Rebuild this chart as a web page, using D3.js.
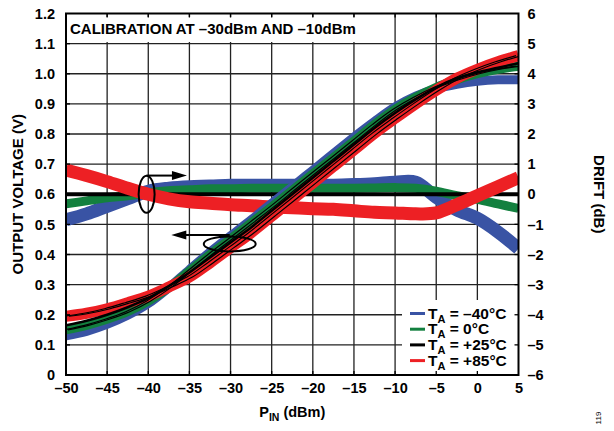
<!DOCTYPE html>
<html><head><meta charset="utf-8">
<script src="https://cdn.jsdelivr.net/npm/d3@7"></script>
<style>
body{margin:0;background:#fff}
svg{display:block}
text{font-family:"Liberation Sans",Arial,Helvetica,sans-serif;font-weight:bold;fill:#000}
</style>
</head><body>
<svg id="chart" width="614" height="431"></svg>
<script>
// ---- data ----
const pinDbm = [-50,-47.5,-45,-42.5,-40,-37.5,-35,-32.5,-30,-27.5,-25,-22.5,-20,-17.5,-15,-12.5,-10,-7.5,-5,-2.5,0,2.5,5];

// output voltage (V), left axis
const voutM40 = [0.13,0.145,0.168,0.198,0.237,0.29,0.35,0.408,0.462,0.515,0.57,0.625,0.68,0.735,0.79,0.842,0.89,0.926,0.95,0.965,0.975,0.98,0.98];
const vout0   = [0.15,0.165,0.185,0.21,0.245,0.29,0.345,0.4,0.452,0.505,0.558,0.613,0.668,0.722,0.777,0.832,0.882,0.922,0.955,0.98,1.0,1.015,1.025];
const vout25  = [0.165,0.18,0.20,0.225,0.255,0.295,0.34,0.39,0.44,0.49,0.545,0.60,0.655,0.71,0.765,0.82,0.87,0.915,0.955,0.985,1.005,1.02,1.035];
const vout85  = [0.195,0.205,0.22,0.24,0.262,0.292,0.325,0.372,0.422,0.472,0.527,0.582,0.637,0.692,0.747,0.802,0.852,0.90,0.945,0.985,1.015,1.04,1.06];

// drift (dB), right axis
const driftM40 = [-0.85,-0.65,-0.4,-0.15,0.1,0.2,0.25,0.27,0.3,0.3,0.3,0.3,0.3,0.3,0.32,0.35,0.4,0.4,-0.1,-0.52,-0.8,-1.25,-1.8];
const drift0   = [-0.32,-0.22,-0.12,-0.05,0.05,0.12,0.15,0.18,0.18,0.2,0.2,0.2,0.2,0.2,0.2,0.21,0.22,0.2,0.1,-0.05,-0.17,-0.32,-0.47];
const drift25  = [0,0,0,0,0,0,0,0,0,0,0,0,0,0,0,0,0,0,0,0,0,0,0];
const drift85  = [0.8,0.62,0.42,0.2,0.0,-0.15,-0.25,-0.3,-0.35,-0.38,-0.42,-0.45,-0.48,-0.5,-0.55,-0.6,-0.62,-0.65,-0.62,-0.35,-0.05,0.25,0.55];

const xTickVals = [-50,-45,-40,-35,-30,-25,-20,-15,-10,-5,0,5];
const voutTickVals = [0,0.1,0.2,0.3,0.4,0.5,0.6,0.7,0.8,0.9,1.0,1.1,1.2];
const driftTickVals = [-6,-5,-4,-3,-2,-1,0,1,2,3,4,5,6];

const legendLabels = ["\u201340\u00B0C","0\u00B0C","+25\u00B0C","+85\u00B0C"];
const seriesColors = ["#3953a4","#13803f","#000000","#ed2024"];

// ---- layout ----
const L = 66, R = 518.5, T = 13.5, B = 375;
const svg = d3.select("#chart");
const x = d3.scaleLinear().domain([-50,5]).range([L,R]);
const yV = d3.scaleLinear().domain([0,1.2]).range([B,T]);
const yD = d3.scaleLinear().domain([-6,6]).range([B,T]);
const dash = s => s.replace(/[-\u2212]/g,"\u2013");

svg.append("defs").append("clipPath").attr("id","plotclip")
  .append("rect").attr("x",L).attr("y",T).attr("width",R-L).attr("height",B-T);

// gridlines
const grid = svg.append("g").attr("stroke","#222").attr("stroke-width",1.3);
xTickVals.slice(1,-1).forEach(v=>{
  grid.append("line").attr("x1",x(v)).attr("x2",x(v)).attr("y1",T).attr("y2",B);
});
voutTickVals.slice(1,-1).forEach(v=>{
  grid.append("line").attr("x1",L).attr("x2",R).attr("y1",yV(v)).attr("y2",yV(v));
});

const plot = svg.append("g").attr("clip-path","url(#plotclip)");

// drift curves
const lineD = d3.line().x((d,i)=>x(pinDbm[i])).y(d=>yD(d)).curve(d3.curveCatmullRom);
[[driftM40,seriesColors[0],13],[drift0,seriesColors[1],9],[drift25,seriesColors[2],4],[drift85,seriesColors[3],13]]
  .forEach(([arr,c,w])=>{
    plot.append("path").attr("d",lineD(arr)).attr("fill","none").attr("stroke",c)
      .attr("stroke-width",w).attr("stroke-linecap","butt");
  });

// output voltage curves
const lineV = d3.line().x((d,i)=>x(pinDbm[i])).y(d=>yV(d)).curve(d3.curveCatmullRom);
[[voutM40,seriesColors[0],9],[vout0,seriesColors[1],9],[vout85,seriesColors[3],11]]
  .forEach(([arr,c,w])=>{
    plot.append("path").attr("d",lineV(arr)).attr("fill","none").attr("stroke",c).attr("stroke-width",w);
  });
plot.append("path").attr("d",lineV(vout0)).attr("fill","none").attr("stroke","#000").attr("stroke-width",1.2).attr("transform","translate(-2,0)");
plot.append("path").attr("d",lineV(vout0)).attr("fill","none").attr("stroke","#000").attr("stroke-width",1.2).attr("transform","translate(2,0)");
plot.append("path").attr("d",lineV(vout85)).attr("fill","none").attr("stroke","#000").attr("stroke-width",1.2).attr("transform","translate(-2.5,0)");
plot.append("path").attr("d",lineV(vout85)).attr("fill","none").attr("stroke","#000").attr("stroke-width",1.2).attr("transform","translate(3,0)");
plot.append("path").attr("d",lineV(vout25)).attr("fill","none").attr("stroke","#000").attr("stroke-width",2.5);

// annotations
const ann = svg.append("g").attr("fill","none").attr("stroke","#000").attr("stroke-width",2);
ann.append("ellipse").attr("cx",x(-40.2)).attr("cy",yD(0)).attr("rx",8).attr("ry",18.5);
ann.append("line").attr("x1",x(-40.2)).attr("x2",x(-37)).attr("y1",yD(0.62)).attr("y2",yD(0.62));
svg.append("path").attr("d",`M${x(-37)-1},${yD(0.62)-4.5}L${x(-37)+14},${yD(0.62)}L${x(-37)-1},${yD(0.62)+4.5}Z`).attr("fill","#000");
ann.append("ellipse").attr("cx",x(-30.1)).attr("cy",yV(0.435)).attr("rx",26).attr("ry",7.5);
ann.append("line").attr("x1",x(-30.1)).attr("x2",x(-35.5)).attr("y1",yV(0.465)).attr("y2",yV(0.465));
svg.append("path").attr("d",`M${x(-35.5)+1},${yV(0.465)-4.5}L${x(-35.5)-14},${yV(0.465)}L${x(-35.5)+1},${yV(0.465)+4.5}Z`).attr("fill","#000");

// title box
svg.append("rect").attr("x",L+1).attr("y",17).attr("width",302).attr("height",25).attr("fill","#fff");
svg.append("text").attr("x",70).attr("y",34).attr("font-size",15).text("CALIBRATION AT \u201330dBm AND \u201310dBm");

// legend
svg.append("rect").attr("x",402).attr("y",300).attr("width",R-402).attr("height",B-300).attr("fill","#fff");
const lg = svg.append("g");
legendLabels.forEach((lab,i)=>{
  const yy = 313.5 + i*15.7;
  lg.append("line").attr("x1",410).attr("x2",425).attr("y1",yy).attr("y2",yy)
    .attr("stroke",seriesColors[i]).attr("stroke-width",3);
  const t = lg.append("text").attr("x",428).attr("y",yy+5).attr("font-size",15.5);
  t.append("tspan").text("T");
  t.append("tspan").attr("font-size",11).attr("dy",4).text("A");
  t.append("tspan").attr("dy",-4).text(" = " + lab);
});

// frame ticks
const tk = svg.append("g").attr("stroke","#000").attr("stroke-width",1.3);
xTickVals.slice(1,-1).forEach(v=>{
  tk.append("line").attr("x1",x(v)).attr("x2",x(v)).attr("y1",T).attr("y2",T+4);
  tk.append("line").attr("x1",x(v)).attr("x2",x(v)).attr("y1",B-4).attr("y2",B);
});
voutTickVals.slice(1,-1).forEach(v=>{
  tk.append("line").attr("x1",L).attr("x2",L+4).attr("y1",yV(v)).attr("y2",yV(v));
  tk.append("line").attr("x1",R-4).attr("x2",R).attr("y1",yV(v)).attr("y2",yV(v));
});

// frame
svg.append("rect").attr("x",L).attr("y",T).attr("width",R-L).attr("height",B-T)
  .attr("fill","none").attr("stroke","#000").attr("stroke-width",2);

// axes (labels only)
const axL = svg.append("g").attr("transform",`translate(${L},0)`)
  .call(d3.axisLeft(yV).tickValues(voutTickVals).tickSize(0).tickPadding(11)
    .tickFormat(d=> d===0 ? "0" : d.toFixed(1)));
const axR = svg.append("g").attr("transform",`translate(${R},0)`)
  .call(d3.axisRight(yD).tickValues(driftTickVals).tickSize(0).tickPadding(9)
    .tickFormat(d=>dash(String(d))));
const axB = svg.append("g").attr("transform",`translate(0,${B})`)
  .call(d3.axisBottom(x).tickValues(xTickVals).tickSize(0).tickPadding(8)
    .tickFormat(d=>dash(String(d))));
[axL,axR,axB].forEach(a=>{
  a.select(".domain").remove();
  a.selectAll("text").attr("font-size",14.5).attr("font-family",null).style("font-weight","bold").attr("fill","#000");
});

// axis titles
svg.append("text").attr("transform",`translate(23,${(T+B)/2}) rotate(-90)`).attr("text-anchor","middle")
  .attr("font-size",15).text("OUTPUT VOLTAGE (V)");
svg.append("text").attr("transform",`translate(594,${(T+B)/2}) rotate(90)`).attr("text-anchor","middle")
  .attr("font-size",15).text("DRIFT (dB)");
const xt = svg.append("text").attr("x",(L+R)/2).attr("y",417).attr("text-anchor","middle").attr("font-size",14.5);
xt.append("tspan").text("P");
xt.append("tspan").attr("font-size",10.5).attr("dy",4).text("IN");
xt.append("tspan").attr("dy",-4).text(" (dBm)");

svg.append("text").attr("transform","translate(601,418) rotate(-90)").attr("text-anchor","middle")
  .attr("font-size",8).style("font-weight","normal").attr("fill","#555").text("119");
</script>
</body></html>
